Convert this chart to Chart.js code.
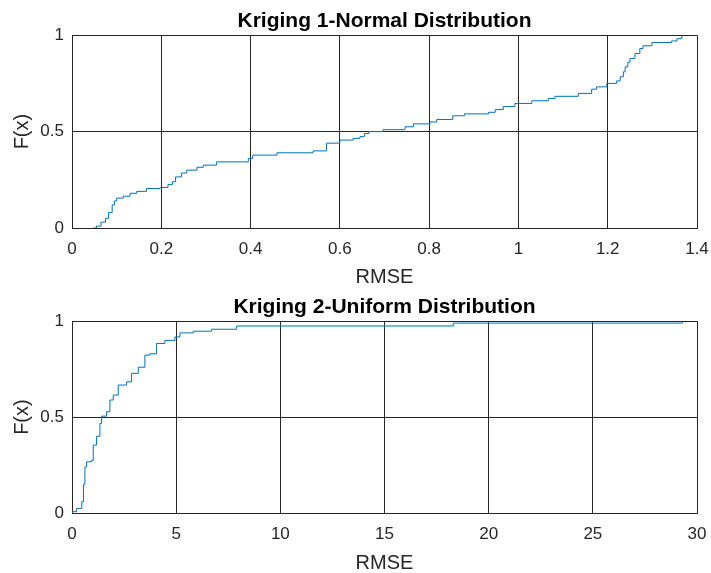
<!DOCTYPE html>
<html lang="en">
<head>
    <meta charset="UTF-8">
    <title>Kriging RMSE CDF</title>
    <style>
        html, body { margin: 0; padding: 0; background: #fff; overflow: hidden; width: 711px; height: 573px; }
        canvas { position: absolute; left: 0; }
    </style>
</head>
<body>

<canvas id="chart1" width="711" height="290" style="top: 0px;"></canvas>
<canvas id="chart2" width="711" height="290" style="top: 286px;"></canvas>

<script src="https://cdn.jsdelivr.net/npm/chart.js"></script>

<script>
    // Kriging 1 - normal distribution: RMSE where each step happens, F(x) after the step
    const normalRmse = [0.048, 0.055, 0.065, 0.075, 0.082, 0.09, 0.095, 0.10, 0.115, 0.13,
        0.145, 0.167, 0.197, 0.215, 0.225, 0.232, 0.245, 0.257, 0.28, 0.294,
        0.324, 0.395, 0.405, 0.459, 0.54, 0.57, 0.60, 0.63, 0.645, 0.655,
        0.665, 0.697, 0.746, 0.765, 0.802, 0.817, 0.853, 0.879, 0.933, 0.948,
        0.966, 0.992, 1.03, 1.067, 1.082, 1.134, 1.164, 1.175, 1.198, 1.22,
        1.228, 1.235, 1.239, 1.245, 1.25, 1.261, 1.272, 1.279, 1.299, 1.343,
        1.355, 1.366]
    const normalCdf = [0, 0.01, 0.03, 0.05, 0.08, 0.12, 0.14, 0.155, 0.165, 0.18,
        0.19, 0.205, 0.21, 0.225, 0.24, 0.265, 0.285, 0.30, 0.315, 0.326,
        0.343, 0.36, 0.378, 0.39, 0.40, 0.44, 0.456, 0.465, 0.474, 0.49,
        0.50, 0.51, 0.525, 0.54, 0.55, 0.563, 0.582, 0.592, 0.60, 0.614,
        0.63, 0.646, 0.66, 0.672, 0.683, 0.698, 0.72, 0.732, 0.75, 0.763,
        0.784, 0.81, 0.836, 0.86, 0.879, 0.905, 0.931, 0.945, 0.962, 0.97,
        0.982, 1.0]

    // Kriging 2 - uniform distribution
    const uniformRmse = [0, 0.03, 0.22, 0.47, 0.55, 0.62, 0.70, 0.94, 1.02, 1.18,
        1.34, 1.42, 1.66, 1.82, 1.98, 2.22, 2.62, 2.86, 3.18, 3.50,
        3.74, 4.06, 4.46, 4.94, 5.18, 5.82, 6.70, 7.90, 18.3, 29.3]
    const uniformCdf = [0, 0.007, 0.024, 0.059, 0.15, 0.24, 0.267, 0.275, 0.354, 0.40,
        0.467, 0.505, 0.528, 0.589, 0.615, 0.667, 0.684, 0.728, 0.76, 0.823,
        0.83, 0.884, 0.90, 0.918, 0.939, 0.948, 0.958, 0.975, 0.99, 0.997]

    const normalTicks = [0, 0.2, 0.4, 0.6, 0.8, 1, 1.2, 1.4]
    const uniformTicks = [0, 5, 10, 15, 20, 25, 30]
    const cdfTicks = [0, 0.5, 1]

    const fam = '"Liberation Sans", Arial, Helvetica, sans-serif'
    const textColor = '#262626'
    const gridColor = '#262626'

    function makeChart(id, title, xs, ys, xTicks, xAxisHeight) {
        const pts = xs.map((x, i) => ({ x: x, y: ys[i] }))
        return new Chart(document.getElementById(id), {
            type: 'line',
            data: {
                datasets: [{
                    data: pts,
                    borderColor: '#0072BD',
                    borderWidth: 1,
                    pointRadius: 0,
                    stepped: true,
                    fill: false
                }]
            },
            options: {
                responsive: false,
                animation: false,
                layout: { padding: { left: 0, right: 14, top: 0, bottom: 0 } },
                plugins: {
                    legend: { display: false },
                    tooltip: { enabled: false },
                    title: {
                        display: true,
                        text: title,
                        fullSize: false,
                        color: '#000',
                        font: { family: fam, size: 21, weight: 'bold' },
                        padding: { top: 9, bottom: 1 }
                    }
                },
                scales: {
                    x: {
                        type: 'linear',
                        min: xTicks[0],
                        max: xTicks[xTicks.length - 1],
                        afterBuildTicks: s => { s.ticks = xTicks.map(v => ({ value: v })) },
                        afterFit: s => { s.height = xAxisHeight; s.paddingLeft = 0; s.paddingRight = 0 },
                        grid: { color: gridColor, drawTicks: false },
                        border: { color: gridColor },
                        ticks: {
                            color: textColor, padding: 11, maxRotation: 0, autoSkip: false,
                            font: { family: fam, size: 17 },
                            callback: v => String(v)
                        },
                        title: {
                            display: true, text: 'RMSE', color: textColor,
                            font: { family: fam, size: 20 },
                            padding: { top: 0, bottom: 1 }
                        }
                    },
                    y: {
                        type: 'linear',
                        min: 0,
                        max: 1,
                        afterBuildTicks: s => { s.ticks = cdfTicks.map(v => ({ value: v })) },
                        afterFit: s => { s.width = 72 },
                        grid: { color: gridColor, drawTicks: false },
                        border: { color: gridColor },
                        ticks: {
                            color: textColor, padding: 8,
                            font: { family: fam, size: 17 },
                            callback: v => String(v)
                        },
                        title: {
                            display: true, text: 'F(x)', color: textColor,
                            font: { family: fam, size: 20 },
                            padding: { top: 10, bottom: 0 }
                        }
                    }
                }
            }
        })
    }

    makeChart('chart1', 'Kriging 1-Normal Distribution', normalRmse, normalCdf, normalTicks, 62)
    makeChart('chart2', 'Kriging 2-Uniform Distribution', uniformRmse, uniformCdf, uniformTicks, 63)
</script>
</body>
</html>
